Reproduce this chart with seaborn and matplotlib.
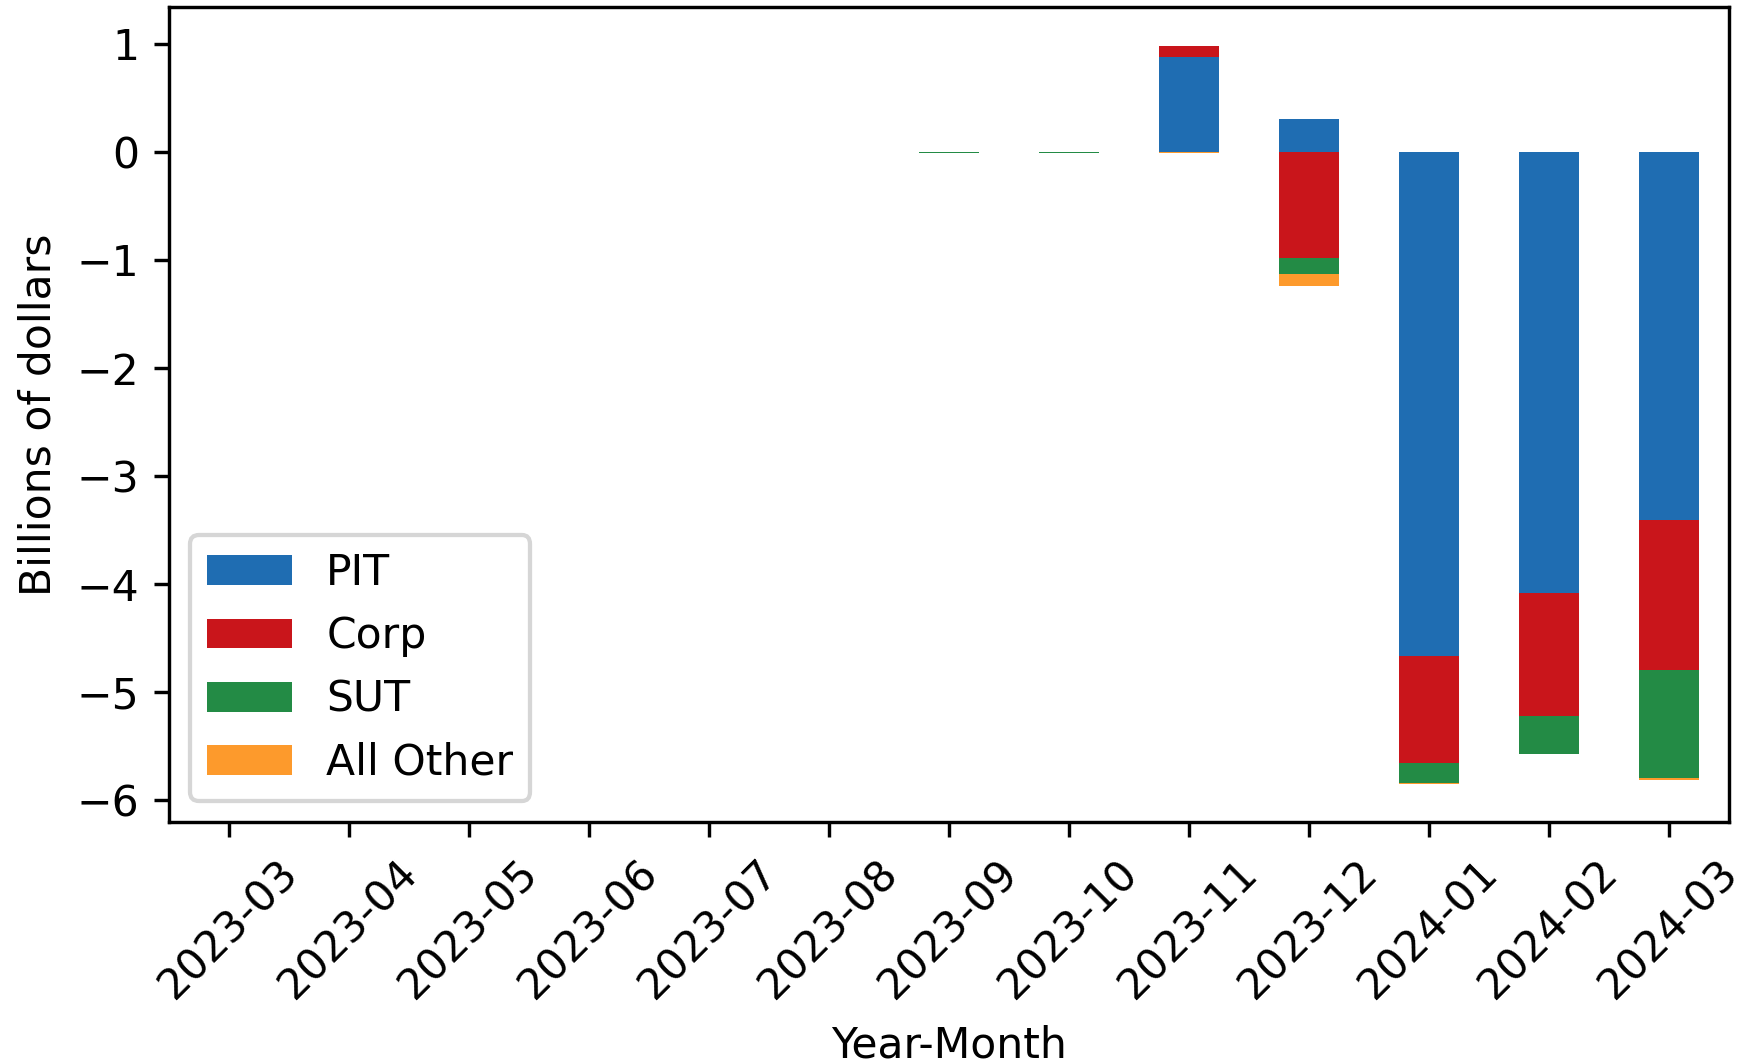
import numpy as np
import matplotlib
matplotlib.use("Agg")
import matplotlib.pyplot as plt
import seaborn as sns

# monthly change by revenue source, billions of dollars
months = ["2023-03", "2023-04", "2023-05", "2023-06", "2023-07", "2023-08",
          "2023-09", "2023-10", "2023-11", "2023-12", "2024-01", "2024-02", "2024-03"]
pit = [0, 0, 0, 0, 0, 0, 0, 0, 0.88, 0.30, -4.66, -4.08, -3.41]
corp = [0, 0, 0, 0, 0, 0, 0, 0, 0.10, -0.98, -0.99, -1.14, -1.38]
sut = [0, 0, 0, 0, 0, 0, -0.012, -0.012, 0, -0.15, -0.19, -0.35, -1.00]
other = [0, 0, 0, 0, 0, 0, 0, 0, -0.012, -0.114, -0.012, 0, -0.025]

series = ["PIT", "Corp", "SUT", "All Other"]
colors = ["#1f6db2", "#c9151b", "#238b45", "#fd9a2c"]

DPI = 306
fig = plt.figure(figsize=(1747 / DPI, 1063 / DPI), dpi=DPI)
ax = fig.add_axes([169 / 1747, 1 - 822 / 1063, (1729 - 169) / 1747, (822 - 7) / 1063])

# stack positives and negatives separately, like pandas does
pos_base = np.zeros(len(months))
neg_base = np.zeros(len(months))
for name, vals, col in zip(series, [pit, corp, sut, other], colors):
    vals = np.array(vals, dtype=float)
    bottom = np.where(vals >= 0, pos_base, neg_base)
    sns.barplot(x=months, y=vals, bottom=bottom, color=col, width=0.5,
                saturation=1, errorbar=None, label=name, linewidth=0, ax=ax)
    pos_base += np.where(vals >= 0, vals, 0)
    neg_base += np.where(vals < 0, vals, 0)

ax.set_xlim(-0.5, len(months) - 0.5)
ax.set_ylim(-6.20, 1.34)
ax.set_yticks([1, 0, -1, -2, -3, -4, -5, -6])
plt.setp(ax.get_xticklabels(), rotation=45, ha="center")
ax.set_xlabel("Year-Month")
ax.set_ylabel("Billions of dollars")
ax.legend(loc="lower left")

fig.savefig("out.png", dpi=DPI)
